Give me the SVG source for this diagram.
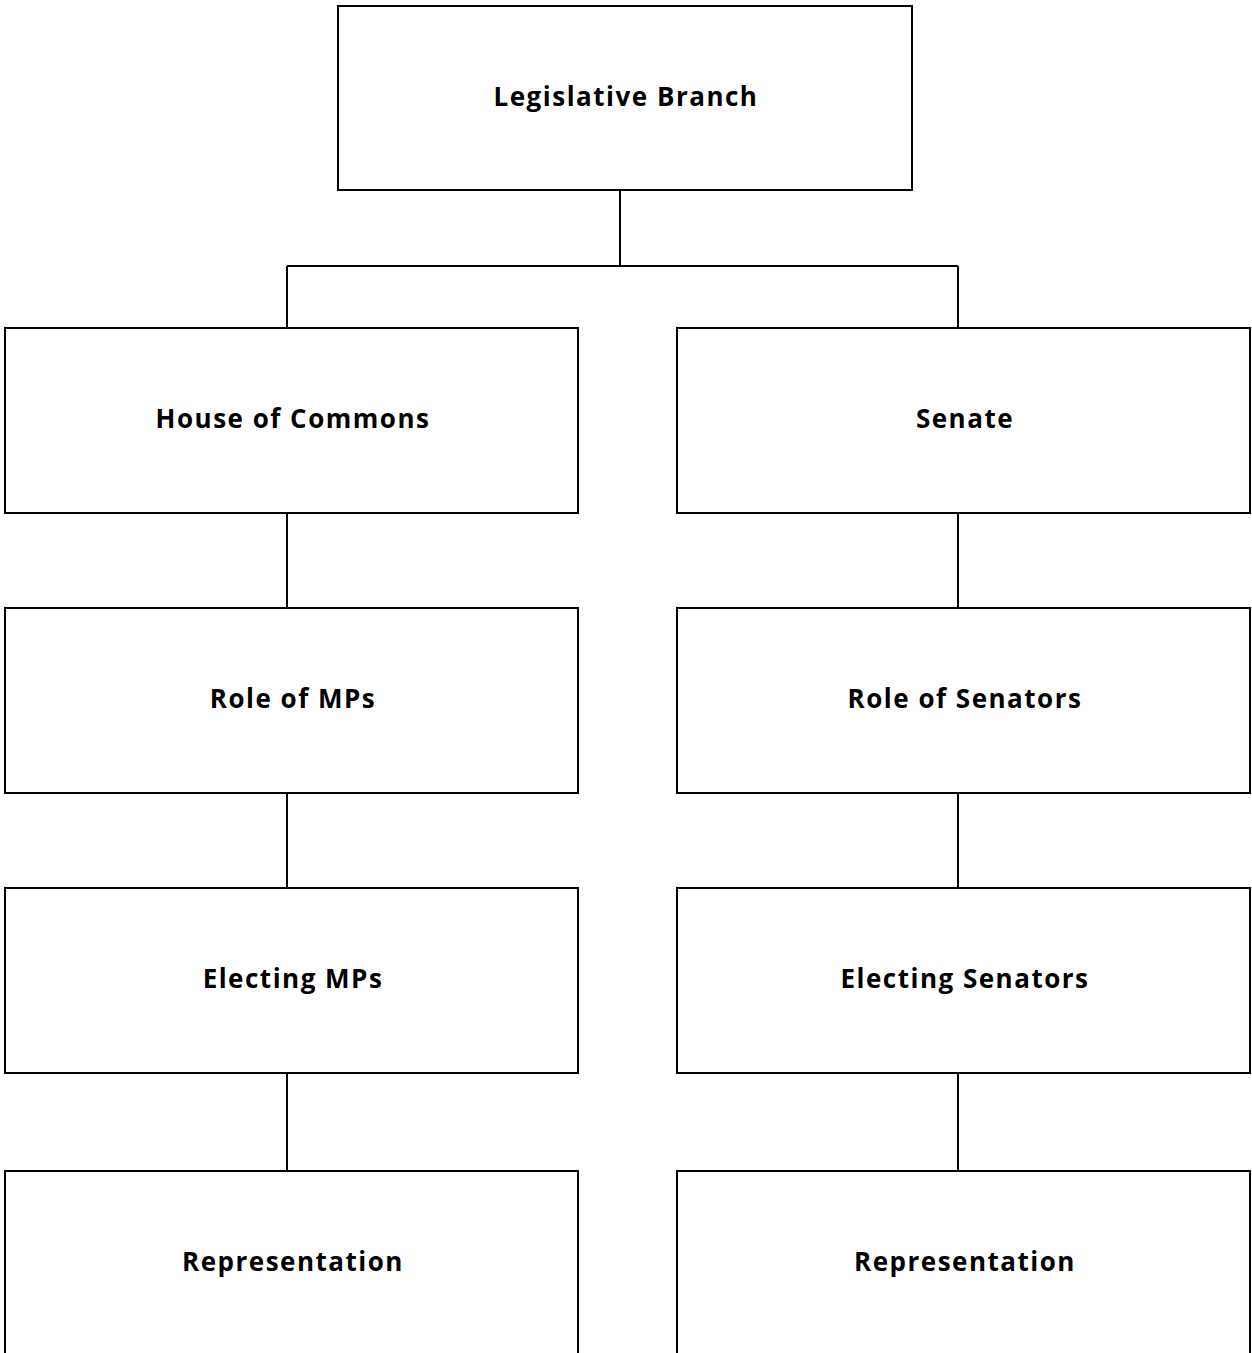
<svg xmlns="http://www.w3.org/2000/svg" width="1252" height="1353" viewBox="0 0 1252 1353">
<style>
.box{fill:#fff;stroke:#000;stroke-width:2}
.lbl{font-family:"Open Sans","Liberation Sans",sans-serif;font-weight:700;font-size:26px;fill:#000;text-anchor:middle;dominant-baseline:central;letter-spacing:1.5px}
.con{fill:none;stroke:#000;stroke-width:2}
</style>
<rect width="1252" height="1353" fill="#fff"/>
<g id="connectors">
<path class="con" d="M620,190 V266 M287,266 H958 M287,266 V328 M958,266 V328"/>
<path class="con" d="M287,513 V608 M287,793 V888 M287,1073 V1171"/>
<path class="con" d="M958,513 V608 M958,793 V888 M958,1073 V1171"/>
</g>
<g id="legislative"><rect class="box" x="338" y="6" width="574" height="184"/><text class="lbl" x="626" y="96">Legislative Branch</text></g>
<g id="commons"><rect class="box" x="5" y="328" width="573" height="185"/><text class="lbl" x="293" y="418">House of Commons</text></g>
<g id="senate"><rect class="box" x="677" y="328" width="573" height="185"/><text class="lbl" x="965" y="418">Senate</text></g>
<g id="role-mps"><rect class="box" x="5" y="608" width="573" height="185"/><text class="lbl" x="293" y="698">Role of MPs</text></g>
<g id="role-senators"><rect class="box" x="677" y="608" width="573" height="185"/><text class="lbl" x="965" y="698">Role of Senators</text></g>
<g id="electing-mps"><rect class="box" x="5" y="888" width="573" height="185"/><text class="lbl" x="293" y="978">Electing MPs</text></g>
<g id="electing-senators"><rect class="box" x="677" y="888" width="573" height="185"/><text class="lbl" x="965" y="978">Electing Senators</text></g>
<g id="rep-commons"><rect class="box" x="5" y="1171" width="573" height="190"/><text class="lbl" x="293" y="1261">Representation</text></g>
<g id="rep-senate"><rect class="box" x="677" y="1171" width="573" height="190"/><text class="lbl" x="965" y="1261">Representation</text></g>
</svg>
